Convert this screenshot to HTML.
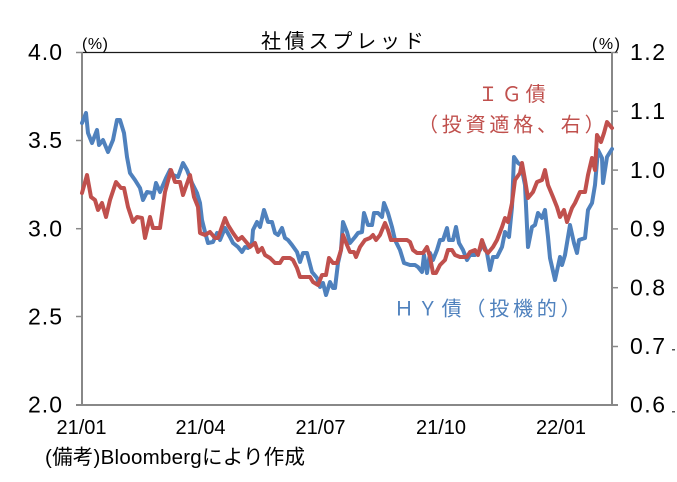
<!DOCTYPE html>
<html>
<head>
<meta charset="utf-8">
<style>
  html,body{margin:0;padding:0;background:#fff;}
  body{width:677px;height:482px;overflow:hidden;}
  svg{display:block;}
  .num{font-family:"Liberation Sans",sans-serif;fill:#000;}
  .jp{font-family:"Liberation Sans","Noto Sans CJK JP",sans-serif;}
</style>
</head>
<body>
<svg width="677" height="482" viewBox="0 0 677 482" xmlns="http://www.w3.org/2000/svg">
  <rect x="0" y="0" width="677" height="482" fill="#fff"/>

  <!-- title -->
  <text class="jp" x="261" y="48" font-size="20" letter-spacing="3.8" fill="#000">社債スプレッド</text>

  <!-- top frame line -->
  <line x1="82" y1="52.5" x2="612" y2="52.5" stroke="#1a1a1a" stroke-width="1.3"/>

  <!-- axes -->
  <line x1="82" y1="52" x2="82" y2="405" stroke="#888" stroke-width="2"/>
  <line x1="612" y1="52" x2="612" y2="405" stroke="#888" stroke-width="2"/>
  <line x1="76" y1="405" x2="618" y2="405" stroke="#888" stroke-width="2"/>
  <!-- ticks -->
  <g stroke="#888" stroke-width="1.5">
    <line x1="76" y1="52.5" x2="82" y2="52.5"/>
    <line x1="76" y1="140.5" x2="82" y2="140.5"/>
    <line x1="76" y1="228.7" x2="82" y2="228.7"/>
    <line x1="76" y1="316.5" x2="82" y2="316.5"/>
    <line x1="612" y1="52.5" x2="618" y2="52.5"/>
    <line x1="612" y1="111.3" x2="618" y2="111.3"/>
    <line x1="612" y1="170.1" x2="618" y2="170.1"/>
    <line x1="612" y1="228.9" x2="618" y2="228.9"/>
    <line x1="612" y1="287.7" x2="618" y2="287.7"/>
    <line x1="612" y1="346.5" x2="618" y2="346.5"/>
  </g>

  <!-- left labels -->
  <g class="num" font-size="23">
    <text x="28" y="60" textLength="34" lengthAdjust="spacing">4.0</text>
    <text x="28" y="148" textLength="34" lengthAdjust="spacing">3.5</text>
    <text x="28" y="236.5" textLength="34" lengthAdjust="spacing">3.0</text>
    <text x="28" y="324.5" textLength="34" lengthAdjust="spacing">2.5</text>
    <text x="28" y="412.5" textLength="34" lengthAdjust="spacing">2.0</text>
  </g>
  <!-- right labels -->
  <g class="num" font-size="23">
    <text x="630" y="60" textLength="35" lengthAdjust="spacing">1.2</text>
    <text x="630" y="119" textLength="35" lengthAdjust="spacing">1.1</text>
    <text x="630" y="178" textLength="35" lengthAdjust="spacing">1.0</text>
    <text x="630" y="236.5" textLength="35" lengthAdjust="spacing">0.9</text>
    <text x="630" y="295.5" textLength="35" lengthAdjust="spacing">0.8</text>
    <text x="630" y="354" textLength="35" lengthAdjust="spacing">0.7</text>
    <text x="630" y="412.5" textLength="35" lengthAdjust="spacing">0.6</text>
  </g>
  <rect x="672" y="349" width="3" height="1.5" fill="#555"/>
  <rect x="672" y="411" width="3" height="1.5" fill="#555"/>

  <!-- (%) labels -->
  <g class="num" font-size="16">
    <text x="82" y="49" textLength="26" lengthAdjust="spacing">(%)</text>
    <text x="592" y="49" textLength="28" lengthAdjust="spacing">(%)</text>
  </g>

  <!-- x labels -->
  <g class="num" font-size="20">
    <text x="56.5" y="434" textLength="50" lengthAdjust="spacing">21/01</text>
    <text x="175.5" y="434" textLength="50" lengthAdjust="spacing">21/04</text>
    <text x="295.5" y="434" textLength="50" lengthAdjust="spacing">21/07</text>
    <text x="416" y="434" textLength="50" lengthAdjust="spacing">21/10</text>
    <text x="536" y="434" textLength="50" lengthAdjust="spacing">22/01</text>
  </g>

  <!-- footer -->
  <text class="jp" x="45" y="464" font-size="20.5" fill="#000" textLength="260" lengthAdjust="spacing">(備考)Bloombergにより作成</text>

  <!-- HY (blue) -->
  <polyline fill="none" stroke="#4f81bd" stroke-width="4" stroke-linejoin="round" stroke-linecap="round" points="
82,123 86,113 88,133 92,143 97,130 99,145 103,140 108,152 113,140 117,120 120,120 124,133 127,157 130,173 135,180 140,188 143,200 147,192 152,193 153,198 156,183 160,192 166,178 170,170 173,175 178,177 183,163 187,170 192,183 197,193 200,203 202,220 205,232 208,243 213,242 217,233 220,240 225,228 230,237 233,243 238,247 242,252 245,247 248,248 252,243 253,230 257,222 260,227 264,210 268,222 272,222 275,233 278,235 282,228 285,238 288,240 292,245 297,252 300,262 303,253 307,253 312,272 317,278 320,287 323,283 326,295 330,282 333,288 335,288 338,263 341,250 343,222 347,232 350,243 355,237 358,233 362,232 364,213 368,225 372,225 374,213 378,213 382,217 384,203 388,213 392,227 395,240 400,250 404,263 410,265 415,265 418,267 422,272 424,255 427,273 430,253 433,260 437,250 440,240 443,240 447,228 449,240 453,240 456,227 459,243 463,250 467,260 470,255 475,255 480,250 483,243 487,253 490,270 493,257 497,257 502,247 505,232 509,237 512,207 514,157 518,163 521,165 525,185 528,247 532,227 535,225 538,213 542,218 545,210 548,237 550,258 555,280 560,257 562,265 565,255 570,225 574,243 577,253 579,240 585,238 588,210 592,203 595,185 598,150 602,158 603,183 607,157 612,149"/>

  <!-- IG (red) -->
  <polyline fill="none" stroke="#c0504d" stroke-width="4" stroke-linejoin="round" stroke-linecap="round" points="
82,193 87,175 91,197 95,200 98,210 102,203 106,217 110,200 116,182 121,188 124,188 128,207 133,222 137,217 142,218 145,238 150,217 153,228 160,228 165,192 171,170 175,182 180,182 183,195 190,175 194,197 198,207 200,233 205,235 210,232 215,238 218,238 225,218 228,225 233,233 238,240 242,237 247,243 250,247 255,243 258,252 262,248 265,255 270,258 275,263 280,263 283,258 290,258 293,260 297,268 300,277 305,277 310,277 313,282 318,285 322,275 326,275 329,258 333,263 337,263 341,250 343,235 347,245 350,252 354,252 356,257 360,247 365,240 370,238 373,235 376,240 380,235 385,223 388,230 391,240 397,240 407,240 410,242 413,250 417,253 423,253 427,247 430,257 433,273 436,273 440,265 445,260 448,250 452,250 455,255 460,257 467,257 470,252 475,250 478,255 482,240 485,250 488,253 493,247 497,240 502,227 505,218 508,222 512,203 515,180 520,173 522,163 525,180 528,198 533,192 537,182 542,180 545,170 548,185 553,197 557,207 560,217 564,210 567,222 572,208 575,203 580,192 585,192 588,175 592,158 595,170 597,135 601,142 604,133 607,122 612,128"/>

  <!-- annotations -->
  <text class="jp" x="478" y="101" font-size="20" letter-spacing="3.8" fill="#c0504d">ＩＧ債</text>
  <text class="jp" x="418" y="131.5" font-size="20" letter-spacing="3.8" fill="#c0504d">（投資適格、右）</text>
  <text class="jp" x="394" y="315.5" font-size="20" letter-spacing="3.8" fill="#4f81bd">ＨＹ債（投機的）</text>
</svg>
</body>
</html>
